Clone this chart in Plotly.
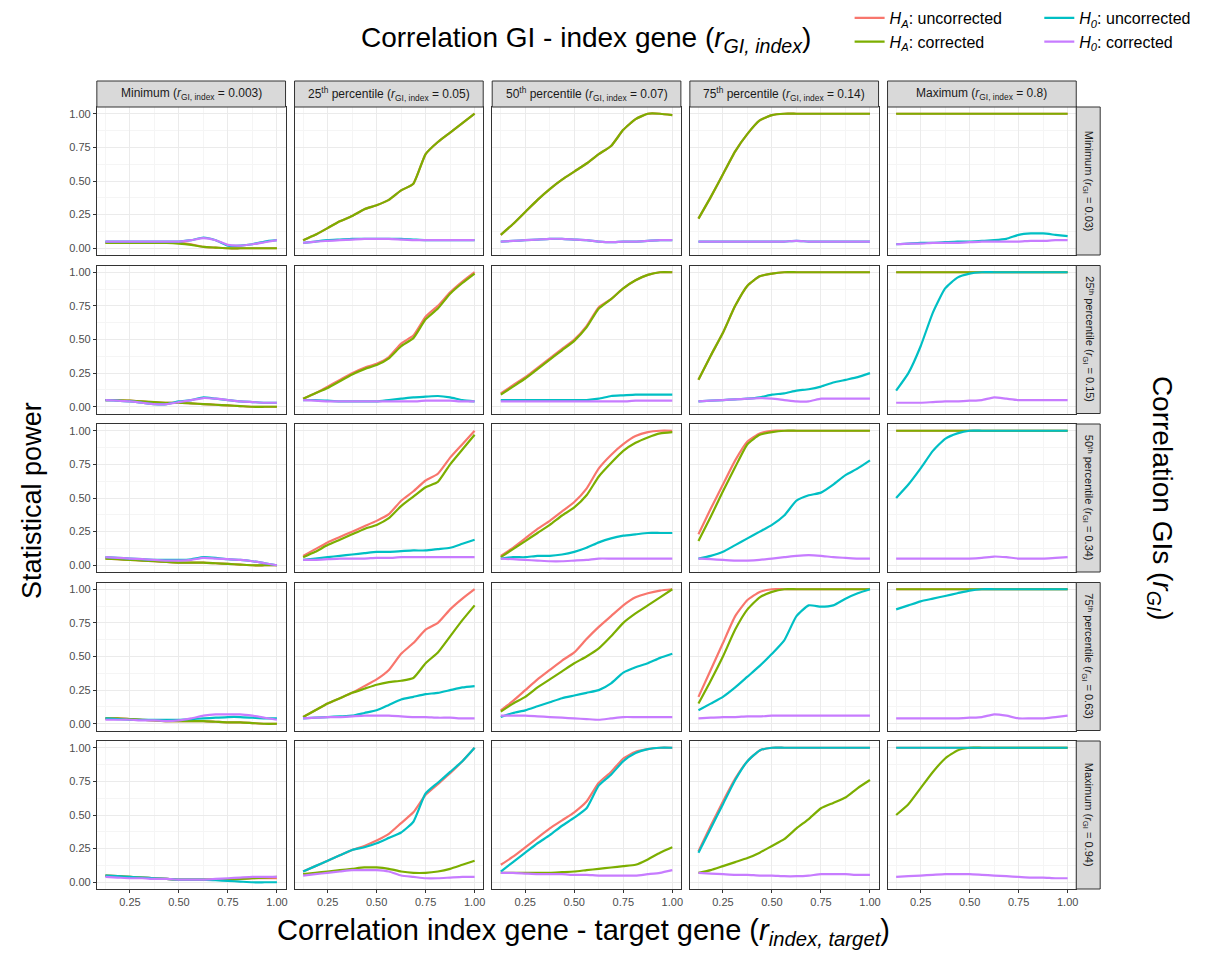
import plotly.graph_objects as go

# ---------------- data ----------------
X = [0.125, 0.1875, 0.25, 0.3125, 0.375, 0.4375, 0.5, 0.5625, 0.625, 0.6875, 0.75, 0.8125, 0.875, 0.9375, 1.0]

COL_LABELS = [
    "Minimum (<i>r</i><sub>GI, index</sub> = 0.003)",
    "25<sup>th</sup> percentile (<i>r</i><sub>GI, index</sub> = 0.05)",
    "50<sup>th</sup> percentile (<i>r</i><sub>GI, index</sub> = 0.07)",
    "75<sup>th</sup> percentile (<i>r</i><sub>GI, index</sub> = 0.14)",
    "Maximum (<i>r</i><sub>GI, index</sub> = 0.8)",
]
ROW_LABELS = [
    "Minimum (<i>r</i><sub>GI</sub> = 0.03)",
    "25ᵗʰ percentile (<i>r</i><sub>GI</sub> = 0.15)",
    "50ᵗʰ percentile (<i>r</i><sub>GI</sub> = 0.34)",
    "75ᵗʰ percentile (<i>r</i><sub>GI</sub> = 0.63)",
    "Maximum (<i>r</i><sub>GI</sub> = 0.94)",
]
SERIES_NAMES = [
    "<i>H</i><sub><i>A</i></sub>: uncorrected",
    "<i>H</i><sub><i>A</i></sub>: corrected",
    "<i>H</i><sub><i>0</i></sub>: uncorrected",
    "<i>H</i><sub><i>0</i></sub>: corrected",
]
SERIES_COLORS = ["#F8766D", "#7CAE00", "#00BFC4", "#C77CFF"]

ONES = [1.0] * 15

# Row 1 (r_GI = 0.03) - one list per column
ha_unc_row1 = [
    [0.04, 0.04, 0.04, 0.04, 0.04, 0.04, 0.04, 0.03, 0.01, 0.005, 0.0, 0.0, 0.0, 0.0, 0.0],
    [0.06, 0.10, 0.15, 0.20, 0.24, 0.29, 0.32, 0.36, 0.43, 0.48, 0.70, 0.79, 0.86, 0.93, 1.0],
    [0.10, 0.18, 0.27, 0.36, 0.44, 0.51, 0.57, 0.63, 0.70, 0.76, 0.88, 0.96, 1.0, 1.0, 0.99],
    [0.22, 0.38, 0.55, 0.72, 0.85, 0.95, 0.99, 1.0, 1.0, 1.0, 1.0, 1.0, 1.0, 1.0, 1.0],
    ONES,
]
ha_cor_row1 = [
    [0.04, 0.04, 0.04, 0.04, 0.04, 0.04, 0.035, 0.025, 0.01, 0.005, 0.0, 0.0, 0.0, 0.0, 0.0],
    [0.06, 0.10, 0.15, 0.20, 0.24, 0.29, 0.32, 0.36, 0.43, 0.48, 0.70, 0.79, 0.86, 0.93, 1.0],
    [0.10, 0.18, 0.27, 0.36, 0.44, 0.51, 0.57, 0.63, 0.70, 0.76, 0.88, 0.96, 1.0, 1.0, 0.99],
    [0.22, 0.38, 0.55, 0.72, 0.85, 0.95, 0.99, 1.0, 1.0, 1.0, 1.0, 1.0, 1.0, 1.0, 1.0],
    ONES,
]
h0_unc_row1 = [
    [0.05, 0.05, 0.05, 0.05, 0.05, 0.05, 0.05, 0.06, 0.08, 0.06, 0.02, 0.02, 0.03, 0.05, 0.06],
    [0.04, 0.05, 0.06, 0.065, 0.07, 0.07, 0.07, 0.07, 0.07, 0.065, 0.06, 0.06, 0.06, 0.06, 0.06],
    [0.05, 0.055, 0.06, 0.065, 0.07, 0.07, 0.065, 0.06, 0.05, 0.045, 0.05, 0.05, 0.055, 0.06, 0.06],
    [0.05, 0.05, 0.05, 0.05, 0.05, 0.05, 0.05, 0.05, 0.055, 0.05, 0.05, 0.05, 0.05, 0.05, 0.05],
    [0.03, 0.035, 0.04, 0.04, 0.045, 0.05, 0.05, 0.055, 0.06, 0.07, 0.10, 0.11, 0.11, 0.10, 0.09],
]
h0_cor_row1 = [
    [0.05, 0.05, 0.05, 0.05, 0.05, 0.05, 0.05, 0.06, 0.075, 0.06, 0.025, 0.02, 0.03, 0.045, 0.06],
    [0.04, 0.05, 0.055, 0.06, 0.065, 0.07, 0.07, 0.07, 0.065, 0.06, 0.06, 0.06, 0.06, 0.06, 0.06],
    [0.05, 0.055, 0.06, 0.065, 0.07, 0.07, 0.065, 0.06, 0.05, 0.045, 0.05, 0.05, 0.055, 0.06, 0.06],
    [0.05, 0.05, 0.05, 0.05, 0.05, 0.05, 0.05, 0.05, 0.055, 0.05, 0.05, 0.05, 0.05, 0.05, 0.05],
    [0.03, 0.035, 0.035, 0.04, 0.04, 0.04, 0.045, 0.05, 0.05, 0.05, 0.05, 0.055, 0.055, 0.06, 0.06],
]

# Row 2 (r_GI = 0.15)
ha_unc_row2 = [
    [0.05, 0.05, 0.045, 0.04, 0.035, 0.03, 0.03, 0.025, 0.02, 0.015, 0.01, 0.005, 0.0, 0.0, 0.0],
    [0.06, 0.10, 0.15, 0.20, 0.25, 0.29, 0.32, 0.37, 0.47, 0.53, 0.67, 0.75, 0.85, 0.93, 1.0],
    [0.10, 0.16, 0.22, 0.29, 0.36, 0.43, 0.50, 0.60, 0.74, 0.80, 0.88, 0.94, 0.98, 1.0, 1.0],
    [0.20, 0.38, 0.55, 0.75, 0.90, 0.97, 0.99, 1.0, 1.0, 1.0, 1.0, 1.0, 1.0, 1.0, 1.0],
    ONES,
]
ha_cor_row2 = [
    [0.05, 0.05, 0.045, 0.04, 0.035, 0.03, 0.03, 0.025, 0.02, 0.015, 0.01, 0.005, 0.0, 0.0, 0.0],
    [0.06, 0.10, 0.14, 0.19, 0.24, 0.28, 0.31, 0.36, 0.45, 0.51, 0.65, 0.73, 0.84, 0.92, 0.99],
    [0.09, 0.15, 0.21, 0.28, 0.35, 0.42, 0.49, 0.59, 0.73, 0.80, 0.88, 0.94, 0.98, 1.0, 1.0],
    [0.20, 0.38, 0.55, 0.75, 0.90, 0.97, 0.99, 1.0, 1.0, 1.0, 1.0, 1.0, 1.0, 1.0, 1.0],
    ONES,
]
h0_unc_row2 = [
    [0.05, 0.045, 0.04, 0.03, 0.02, 0.02, 0.04, 0.05, 0.07, 0.06, 0.05, 0.04, 0.035, 0.03, 0.03],
    [0.05, 0.05, 0.045, 0.04, 0.04, 0.04, 0.04, 0.05, 0.06, 0.07, 0.075, 0.08, 0.07, 0.05, 0.04],
    [0.05, 0.05, 0.05, 0.05, 0.05, 0.05, 0.05, 0.05, 0.06, 0.08, 0.085, 0.09, 0.09, 0.09, 0.09],
    [0.04, 0.045, 0.05, 0.055, 0.06, 0.07, 0.09, 0.10, 0.12, 0.13, 0.15, 0.18, 0.20, 0.22, 0.25],
    [0.12, 0.25, 0.45, 0.70, 0.88, 0.96, 0.99, 1.0, 1.0, 1.0, 1.0, 1.0, 1.0, 1.0, 1.0],
]
h0_cor_row2 = [
    [0.05, 0.045, 0.04, 0.03, 0.02, 0.02, 0.035, 0.05, 0.065, 0.06, 0.05, 0.04, 0.035, 0.03, 0.03],
    [0.05, 0.045, 0.04, 0.04, 0.04, 0.04, 0.04, 0.04, 0.04, 0.04, 0.045, 0.045, 0.045, 0.04, 0.04],
    [0.04, 0.04, 0.04, 0.04, 0.04, 0.04, 0.04, 0.04, 0.04, 0.04, 0.04, 0.045, 0.045, 0.045, 0.045],
    [0.04, 0.045, 0.05, 0.055, 0.06, 0.065, 0.06, 0.05, 0.04, 0.04, 0.06, 0.06, 0.06, 0.06, 0.06],
    [0.03, 0.03, 0.03, 0.035, 0.04, 0.04, 0.045, 0.05, 0.07, 0.06, 0.05, 0.05, 0.05, 0.05, 0.05],
]

# Row 3 (r_GI = 0.34)
ha_unc_row3 = [
    [0.05, 0.045, 0.04, 0.035, 0.03, 0.025, 0.02, 0.02, 0.02, 0.015, 0.01, 0.005, 0.0, 0.0, 0.0],
    [0.07, 0.12, 0.17, 0.21, 0.25, 0.29, 0.33, 0.38, 0.48, 0.55, 0.63, 0.68, 0.80, 0.90, 1.0],
    [0.07, 0.13, 0.20, 0.27, 0.33, 0.40, 0.47, 0.57, 0.72, 0.82, 0.90, 0.96, 0.99, 1.0, 1.0],
    [0.23, 0.42, 0.60, 0.78, 0.92, 0.98, 1.0, 1.0, 1.0, 1.0, 1.0, 1.0, 1.0, 1.0, 1.0],
    ONES,
]
ha_cor_row3 = [
    [0.05, 0.045, 0.04, 0.035, 0.03, 0.025, 0.02, 0.02, 0.02, 0.015, 0.01, 0.005, 0.0, 0.0, 0.0],
    [0.06, 0.10, 0.15, 0.19, 0.23, 0.27, 0.30, 0.35, 0.44, 0.51, 0.58, 0.62, 0.75, 0.86, 0.97],
    [0.06, 0.12, 0.18, 0.24, 0.30, 0.37, 0.43, 0.52, 0.66, 0.76, 0.85, 0.91, 0.95, 0.98, 0.99],
    [0.18, 0.36, 0.55, 0.73, 0.90, 0.97, 0.99, 1.0, 1.0, 1.0, 1.0, 1.0, 1.0, 1.0, 1.0],
    ONES,
]
h0_unc_row3 = [
    [0.06, 0.055, 0.05, 0.045, 0.04, 0.04, 0.04, 0.045, 0.06, 0.055, 0.045, 0.04, 0.03, 0.015, 0.0],
    [0.04, 0.05, 0.06, 0.07, 0.08, 0.09, 0.10, 0.10, 0.105, 0.11, 0.11, 0.12, 0.13, 0.16, 0.19],
    [0.05, 0.06, 0.06, 0.07, 0.07, 0.08, 0.10, 0.13, 0.17, 0.20, 0.22, 0.23, 0.24, 0.24, 0.24],
    [0.05, 0.07, 0.10, 0.15, 0.20, 0.25, 0.30, 0.37, 0.48, 0.52, 0.54, 0.60, 0.67, 0.72, 0.78],
    [0.50, 0.60, 0.72, 0.85, 0.94, 0.98, 1.0, 1.0, 1.0, 1.0, 1.0, 1.0, 1.0, 1.0, 1.0],
]
h0_cor_row3 = [
    [0.06, 0.055, 0.05, 0.045, 0.04, 0.035, 0.035, 0.04, 0.055, 0.05, 0.045, 0.04, 0.03, 0.015, 0.0],
    [0.04, 0.04, 0.045, 0.05, 0.05, 0.05, 0.055, 0.055, 0.06, 0.06, 0.06, 0.06, 0.06, 0.06, 0.06],
    [0.05, 0.045, 0.04, 0.035, 0.03, 0.03, 0.035, 0.04, 0.05, 0.05, 0.05, 0.05, 0.05, 0.05, 0.05],
    [0.05, 0.045, 0.04, 0.035, 0.035, 0.04, 0.05, 0.06, 0.07, 0.075, 0.07, 0.06, 0.055, 0.05, 0.05],
    [0.05, 0.05, 0.05, 0.05, 0.05, 0.05, 0.05, 0.055, 0.065, 0.06, 0.05, 0.05, 0.05, 0.055, 0.06],
]

# Row 4 (r_GI = 0.63)
ha_unc_row4 = [
    [0.04, 0.04, 0.035, 0.03, 0.025, 0.02, 0.02, 0.02, 0.02, 0.015, 0.01, 0.01, 0.005, 0.0, 0.0],
    [0.05, 0.10, 0.15, 0.19, 0.23, 0.28, 0.33, 0.40, 0.52, 0.60, 0.70, 0.75, 0.85, 0.93, 1.0],
    [0.10, 0.17, 0.25, 0.33, 0.40, 0.47, 0.53, 0.63, 0.72, 0.80, 0.88, 0.94, 0.97, 0.99, 1.0],
    [0.20, 0.40, 0.60, 0.80, 0.92, 0.98, 1.0, 1.0, 1.0, 1.0, 1.0, 1.0, 1.0, 1.0, 1.0],
    ONES,
]
ha_cor_row4 = [
    [0.04, 0.04, 0.035, 0.03, 0.025, 0.02, 0.02, 0.02, 0.02, 0.015, 0.01, 0.01, 0.005, 0.0, 0.0],
    [0.05, 0.10, 0.15, 0.19, 0.23, 0.26, 0.29, 0.31, 0.32, 0.34, 0.45, 0.53, 0.65, 0.77, 0.88],
    [0.09, 0.15, 0.20, 0.27, 0.33, 0.39, 0.45, 0.50, 0.56, 0.65, 0.75, 0.82, 0.88, 0.94, 1.0],
    [0.15, 0.32, 0.50, 0.70, 0.85, 0.94, 0.98, 1.0, 1.0, 1.0, 1.0, 1.0, 1.0, 1.0, 1.0],
    ONES,
]
h0_unc_row4 = [
    [0.04, 0.035, 0.03, 0.03, 0.03, 0.03, 0.03, 0.035, 0.04, 0.045, 0.05, 0.05, 0.045, 0.04, 0.04],
    [0.04, 0.045, 0.05, 0.055, 0.06, 0.08, 0.10, 0.14, 0.18, 0.20, 0.22, 0.23, 0.25, 0.27, 0.28],
    [0.05, 0.08, 0.10, 0.13, 0.16, 0.19, 0.21, 0.23, 0.25, 0.30, 0.38, 0.42, 0.45, 0.49, 0.52],
    [0.10, 0.15, 0.20, 0.27, 0.35, 0.43, 0.52, 0.62, 0.80, 0.88, 0.87, 0.88, 0.93, 0.97, 1.0],
    [0.85, 0.88, 0.91, 0.93, 0.95, 0.97, 0.99, 1.0, 1.0, 1.0, 1.0, 1.0, 1.0, 1.0, 1.0],
]
h0_cor_row4 = [
    [0.03, 0.03, 0.03, 0.025, 0.025, 0.02, 0.025, 0.04, 0.06, 0.07, 0.07, 0.07, 0.06, 0.045, 0.03],
    [0.04, 0.045, 0.05, 0.05, 0.055, 0.06, 0.06, 0.06, 0.055, 0.05, 0.05, 0.045, 0.045, 0.04, 0.04],
    [0.06, 0.06, 0.06, 0.055, 0.05, 0.045, 0.04, 0.035, 0.03, 0.04, 0.05, 0.05, 0.05, 0.05, 0.05],
    [0.04, 0.045, 0.05, 0.05, 0.055, 0.055, 0.06, 0.06, 0.06, 0.06, 0.06, 0.06, 0.06, 0.06, 0.06],
    [0.04, 0.04, 0.04, 0.04, 0.04, 0.04, 0.045, 0.05, 0.07, 0.06, 0.04, 0.04, 0.04, 0.05, 0.06],
]

# Row 5 (r_GI = 0.94)
ha_unc_row5 = [
    [0.05, 0.045, 0.04, 0.035, 0.03, 0.025, 0.02, 0.02, 0.02, 0.02, 0.02, 0.025, 0.03, 0.03, 0.03],
    [0.08, 0.12, 0.16, 0.20, 0.24, 0.27, 0.31, 0.36, 0.44, 0.52, 0.65, 0.73, 0.81, 0.90, 1.0],
    [0.13, 0.19, 0.26, 0.33, 0.40, 0.46, 0.52, 0.60, 0.74, 0.82, 0.92, 0.97, 0.99, 1.0, 1.0],
    [0.23, 0.42, 0.60, 0.77, 0.90, 0.98, 1.0, 1.0, 1.0, 1.0, 1.0, 1.0, 1.0, 1.0, 1.0],
    ONES,
]
ha_cor_row5 = [
    [0.05, 0.045, 0.04, 0.035, 0.03, 0.025, 0.02, 0.02, 0.02, 0.02, 0.02, 0.025, 0.03, 0.035, 0.04],
    [0.06, 0.07, 0.08, 0.09, 0.10, 0.11, 0.11, 0.10, 0.08, 0.07, 0.07, 0.08, 0.10, 0.13, 0.16],
    [0.07, 0.07, 0.07, 0.07, 0.07, 0.075, 0.08, 0.09, 0.10, 0.11, 0.12, 0.13, 0.17, 0.22, 0.26],
    [0.07, 0.09, 0.12, 0.15, 0.18, 0.22, 0.27, 0.32, 0.40, 0.47, 0.55, 0.59, 0.63, 0.70, 0.76],
    [0.50, 0.58, 0.70, 0.82, 0.92, 0.98, 1.0, 1.0, 1.0, 1.0, 1.0, 1.0, 1.0, 1.0, 1.0],
]
h0_unc_row5 = [
    [0.05, 0.045, 0.04, 0.035, 0.03, 0.025, 0.02, 0.02, 0.02, 0.015, 0.01, 0.005, 0.0, 0.0, 0.0],
    [0.08, 0.12, 0.16, 0.20, 0.24, 0.26, 0.29, 0.33, 0.37, 0.45, 0.66, 0.74, 0.82, 0.90, 1.0],
    [0.08, 0.15, 0.22, 0.29, 0.35, 0.42, 0.48, 0.55, 0.72, 0.80, 0.90, 0.96, 0.99, 1.0, 1.0],
    [0.22, 0.40, 0.58, 0.76, 0.90, 0.98, 1.0, 1.0, 1.0, 1.0, 1.0, 1.0, 1.0, 1.0, 1.0],
    ONES,
]
h0_cor_row5 = [
    [0.04, 0.035, 0.03, 0.03, 0.025, 0.025, 0.02, 0.02, 0.02, 0.025, 0.03, 0.035, 0.04, 0.04, 0.04],
    [0.05, 0.06, 0.07, 0.08, 0.09, 0.09, 0.09, 0.08, 0.05, 0.04, 0.03, 0.03, 0.035, 0.04, 0.04],
    [0.07, 0.07, 0.065, 0.06, 0.06, 0.06, 0.055, 0.055, 0.05, 0.05, 0.05, 0.05, 0.06, 0.07, 0.09],
    [0.07, 0.065, 0.06, 0.055, 0.055, 0.05, 0.05, 0.045, 0.045, 0.05, 0.06, 0.06, 0.06, 0.055, 0.055],
    [0.04, 0.045, 0.05, 0.055, 0.06, 0.06, 0.06, 0.055, 0.05, 0.045, 0.04, 0.035, 0.035, 0.03, 0.03],
]

ROWS = [
    [ha_unc_row1, ha_cor_row1, h0_unc_row1, h0_cor_row1],
    [ha_unc_row2, ha_cor_row2, h0_unc_row2, h0_cor_row2],
    [ha_unc_row3, ha_cor_row3, h0_unc_row3, h0_cor_row3],
    [ha_unc_row4, ha_cor_row4, h0_unc_row4, h0_cor_row4],
    [ha_unc_row5, ha_cor_row5, h0_unc_row5, h0_cor_row5],
]

X_TICKS = [0.25, 0.5, 0.75, 1.0]
X_TICKTEXT = ["0.25", "0.50", "0.75", "1.00"]
Y_TICKS = [0.0, 0.25, 0.5, 0.75, 1.0]
Y_TICKTEXT = ["0.00", "0.25", "0.50", "0.75", "1.00"]

# ---------------- layout geometry (pixels) ----------------
W, H = 1223, 957
COL_LEFT = [97, 295, 493, 691, 889]
PW = 189
ROW_TOP = [107, 265.5, 424, 582.5, 741]
PH = 148
FONT = "Liberation Sans, Arial, Helvetica, sans-serif"


def fx(px):
    return px / W


def fy(py):
    return 1 - py / H


fig = go.Figure()
shapes = []
annotations = []

for r in range(5):
    for c in range(5):
        k = r * 5 + c + 1
        xs = "" if k == 1 else str(k)
        xref, yref = "x" + xs, "y" + xs
        for s in range(4):
            fig.add_trace(go.Scatter(
                x=X, y=ROWS[r][s][c], mode="lines",
                line=dict(color=SERIES_COLORS[s], width=2.2, shape="spline", smoothing=0.5),
                name=SERIES_NAMES[s],
                legendgroup=str(s),
                legend="legend" if s < 2 else "legend2",
                showlegend=(k == 1),
                xaxis=xref, yaxis=yref,
                hoverinfo="skip",
            ))
        bottom = (r == 4)
        left = (c == 0)
        fig.update_layout(**{
            "xaxis" + xs: dict(
                domain=[fx(COL_LEFT[c]), fx(COL_LEFT[c] + PW)],
                anchor=yref, range=[0.08125, 1.04375],
                tickmode="array", tickvals=X_TICKS, ticktext=X_TICKTEXT,
                showticklabels=bottom, ticks="outside" if bottom else "",
                ticklen=3, tickwidth=1, tickcolor="#333333",
                tickfont=dict(size=11, color="#4D4D4D", family=FONT),
                showgrid=True, gridcolor="#EBEBEB", gridwidth=1,
                minor=dict(tickmode="array", tickvals=[0.125, 0.375, 0.625, 0.875],
                           showgrid=True, gridcolor="#F5F5F5", gridwidth=0.6, ticks=""),
                showline=True, mirror=True, linecolor="#333333", linewidth=1,
                zeroline=False, fixedrange=True,
            ),
            "yaxis" + xs: dict(
                domain=[fy(ROW_TOP[r] + PH), fy(ROW_TOP[r])],
                anchor=xref, range=[-0.05, 1.05],
                tickmode="array", tickvals=Y_TICKS, ticktext=Y_TICKTEXT,
                showticklabels=left, ticks="outside" if left else "",
                ticklen=3, tickwidth=1, tickcolor="#333333",
                tickfont=dict(size=11, color="#4D4D4D", family=FONT),
                showgrid=True, gridcolor="#EBEBEB", gridwidth=1,
                minor=dict(tickmode="array", tickvals=[0.125, 0.375, 0.625, 0.875],
                           showgrid=True, gridcolor="#F5F5F5", gridwidth=0.6, ticks=""),
                showline=True, mirror=True, linecolor="#333333", linewidth=1,
                zeroline=False, fixedrange=True,
            ),
        })

# column strips
for c in range(5):
    shapes.append(dict(type="rect", xref="paper", yref="paper",
                       x0=fx(COL_LEFT[c]), x1=fx(COL_LEFT[c] + PW),
                       y0=fy(ROW_TOP[0]), y1=fy(ROW_TOP[0] - 26),
                       fillcolor="#D9D9D9", line=dict(color="#333333", width=1)))
    annotations.append(dict(xref="paper", yref="paper",
                            x=fx(COL_LEFT[c] + PW / 2), y=fy(ROW_TOP[0] - 13),
                            text=COL_LABELS[c], showarrow=False,
                            xanchor="center", yanchor="middle",
                            font=dict(size=12, color="#1A1A1A", family=FONT)))
# row strips
for r in range(5):
    x0 = COL_LEFT[4] + PW
    shapes.append(dict(type="rect", xref="paper", yref="paper",
                       x0=fx(x0), x1=fx(x0 + 24),
                       y0=fy(ROW_TOP[r] + PH), y1=fy(ROW_TOP[r]),
                       fillcolor="#D9D9D9", line=dict(color="#333333", width=1)))
    annotations.append(dict(xref="paper", yref="paper",
                            x=fx(x0 + 12), y=fy(ROW_TOP[r] + PH / 2),
                            text=ROW_LABELS[r], showarrow=False, textangle=90,
                            xanchor="center", yanchor="middle",
                            font=dict(size=11, color="#1A1A1A", family=FONT)))

# titles
annotations.append(dict(xref="paper", yref="paper", x=fx(587), y=fy(40),
                        text="Correlation GI - index gene (<i>r</i><sub><i>GI, index</i></sub>)",
                        showarrow=False, xanchor="center", yanchor="middle",
                        font=dict(size=28, color="#000000", family=FONT)))
annotations.append(dict(xref="paper", yref="paper", x=fx(584), y=fy(932),
                        text="Correlation index gene - target gene (<i>r</i><sub><i>index, target</i></sub>)",
                        showarrow=False, xanchor="center", yanchor="middle",
                        font=dict(size=29, color="#000000", family=FONT)))
annotations.append(dict(xref="paper", yref="paper", x=fx(32), y=fy(500),
                        text="Statistical power", textangle=-90,
                        showarrow=False, xanchor="center", yanchor="middle",
                        font=dict(size=27, color="#000000", family=FONT)))
annotations.append(dict(xref="paper", yref="paper", x=fx(1163), y=fy(498),
                        text="Correlation GIs (<i>r</i><sub><i>GI</i></sub>)", textangle=90,
                        showarrow=False, xanchor="center", yanchor="middle",
                        font=dict(size=28, color="#000000", family=FONT)))

legend_common = dict(xref="paper", yref="paper", xanchor="left", yanchor="top",
                     orientation="v", bgcolor="rgba(0,0,0,0)", borderwidth=0,
                     font=dict(size=16, color="#000000", family=FONT),
                     tracegroupgap=0, itemwidth=30)

fig.update_layout(
    width=W, height=H,
    margin=dict(l=0, r=0, t=0, b=0),
    paper_bgcolor="white", plot_bgcolor="white",
    font=dict(family=FONT),
    showlegend=True,
    legend=dict(x=fx(851), y=fy(1), **legend_common),
    legend2=dict(x=fx(1041), y=fy(1), **legend_common),
    shapes=shapes,
    annotations=annotations,
)

fig.write_html("out.html")
